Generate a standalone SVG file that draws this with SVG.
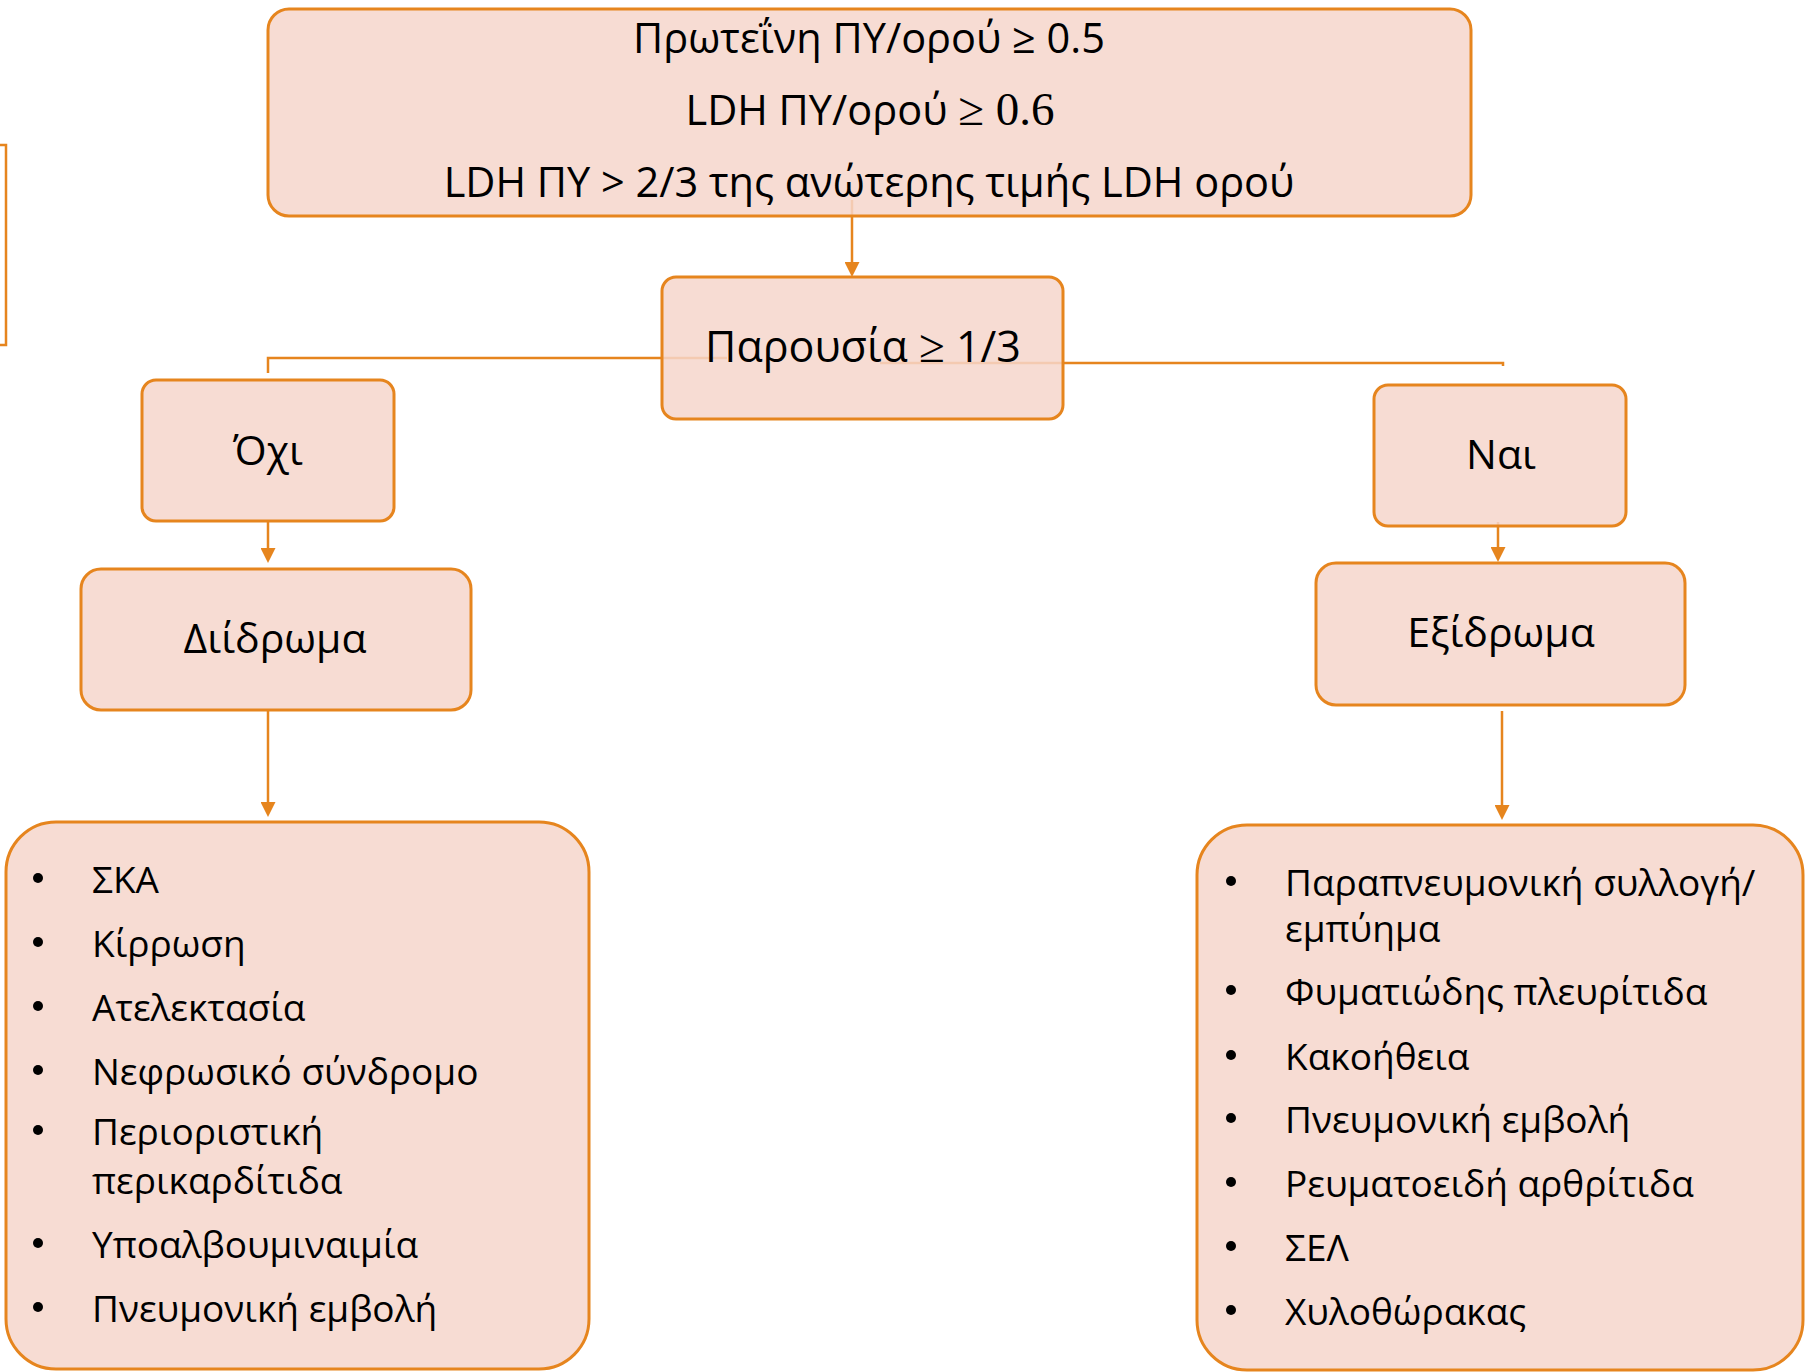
<svg xmlns="http://www.w3.org/2000/svg" width="1810" height="1372" viewBox="0 0 1810 1372">
<defs>
<style>
.box{fill:#F6D6CB;fill-opacity:0.85;stroke:#E6851E;stroke-width:3}
.ln{fill:none;stroke:#E6851E;stroke-width:2.5}
.t{font-family:"Open Sans","Noto Sans",sans-serif;fill:#000}
.top{font-size:41.5px;text-anchor:middle}
.lbl{font-size:41px;text-anchor:middle}
.li{font-size:37px}
.m{font-family:"Liberation Serif","DejaVu Serif",serif}
.dot{fill:#000}
</style>
<marker id="ah" markerUnits="userSpaceOnUse" markerWidth="15" markerHeight="15" viewBox="0 0 15 15" refX="3" refY="7.5" orient="auto">
<path d="M0,0 L15,7.5 L0,15 z" fill="#E6851E"/>
</marker>
</defs>
<rect width="1810" height="1372" fill="#fff"/>
<path class="ln" d="M0,145 H6 V345 H0" stroke-width="2"/>
<g id="connectors">
<line class="ln" x1="852" y1="200" x2="852" y2="265" marker-end="url(#ah)"/>
<path class="ln" d="M727,358 H268 V373"/>
<path class="ln" d="M880,363 H1503 V366"/>
<line class="ln" x1="268" y1="521" x2="268" y2="551" marker-end="url(#ah)"/>
<line class="ln" x1="268" y1="711" x2="268" y2="805" marker-end="url(#ah)"/>
<line class="ln" x1="1498" y1="522" x2="1498" y2="550" marker-end="url(#ah)"/>
<line class="ln" x1="1502" y1="711" x2="1502" y2="808" marker-end="url(#ah)"/>
</g>
<g id="criteria">
<rect class="box" x="268" y="9" width="1203" height="207" rx="21"/>
<text class="t top" x="869" y="53">Πρωτεΐνη ΠΥ/ορού ≥ 0.5</text>
<text class="t top" x="870" y="125">LDH ΠΥ/ορού <tspan class="m" style="font-size:47px">≥ 0.6</tspan></text>
<text class="t top" x="869" y="197">LDH ΠΥ &gt; 2/3 της ανώτερης τιμής LDH ορού</text>
</g>
<g id="presence">
<rect class="box" x="662" y="277" width="401" height="142" rx="14"/>
<text class="t lbl" x="863" y="362" style="font-size:43px">Παρουσία <tspan class="m" style="font-size:47px">≥</tspan> 1/3</text>
</g>
<g id="no">
<rect class="box" x="142" y="380" width="252" height="141" rx="14"/>
<text class="t lbl" x="268" y="465">Όχι</text>
</g>
<g id="transudate">
<rect class="box" x="81" y="569" width="390" height="141" rx="20"/>
<text class="t lbl" x="275" y="653">Διίδρωμα</text>
</g>
<g id="yes">
<rect class="box" x="1374" y="385" width="252" height="141" rx="14"/>
<text class="t lbl" x="1501" y="469">Ναι</text>
</g>
<g id="exudate">
<rect class="box" x="1316" y="563" width="369" height="142" rx="20"/>
<text class="t lbl" x="1501" y="647">Εξίδρωμα</text>
</g>
<g id="transudate-causes">
<rect class="box" x="6" y="822" width="583" height="547" rx="50"/>
<circle class="dot" cx="38" cy="878" r="5"/><text class="t li" x="92" y="893">ΣΚΑ</text>
<circle class="dot" cx="38" cy="942" r="5"/><text class="t li" x="92" y="957">Κίρρωση</text>
<circle class="dot" cx="38" cy="1006" r="5"/><text class="t li" x="92" y="1021">Ατελεκτασία</text>
<circle class="dot" cx="38" cy="1070" r="5"/><text class="t li" x="92" y="1085">Νεφρωσικό σύνδρομο</text>
<circle class="dot" cx="38" cy="1130" r="5"/><text class="t li" x="92" y="1145">Περιοριστική</text>
<text class="t li" x="92" y="1194">περικαρδίτιδα</text>
<circle class="dot" cx="38" cy="1243" r="5"/><text class="t li" x="92" y="1258">Υποαλβουμιναιμία</text>
<circle class="dot" cx="38" cy="1307" r="5"/><text class="t li" x="92" y="1322">Πνευμονική εμβολή</text>
</g>
<g id="exudate-causes">
<rect class="box" x="1197" y="825" width="606" height="545" rx="50"/>
<circle class="dot" cx="1231" cy="881" r="5"/><text class="t li" x="1285" y="896">Παραπνευμονική συλλογή/</text>
<text class="t li" x="1285" y="942">εμπύημα</text>
<circle class="dot" cx="1231" cy="990" r="5"/><text class="t li" x="1285" y="1005">Φυματιώδης πλευρίτιδα</text>
<circle class="dot" cx="1231" cy="1055" r="5"/><text class="t li" x="1285" y="1070">Κακοήθεια</text>
<circle class="dot" cx="1231" cy="1118" r="5"/><text class="t li" x="1285" y="1133">Πνευμονική εμβολή</text>
<circle class="dot" cx="1231" cy="1182" r="5"/><text class="t li" x="1285" y="1197">Ρευματοειδή αρθρίτιδα</text>
<circle class="dot" cx="1231" cy="1246" r="5"/><text class="t li" x="1285" y="1261">ΣΕΛ</text>
<circle class="dot" cx="1231" cy="1310" r="5"/><text class="t li" x="1285" y="1325">Χυλοθώρακας</text>
</g>
</svg>
